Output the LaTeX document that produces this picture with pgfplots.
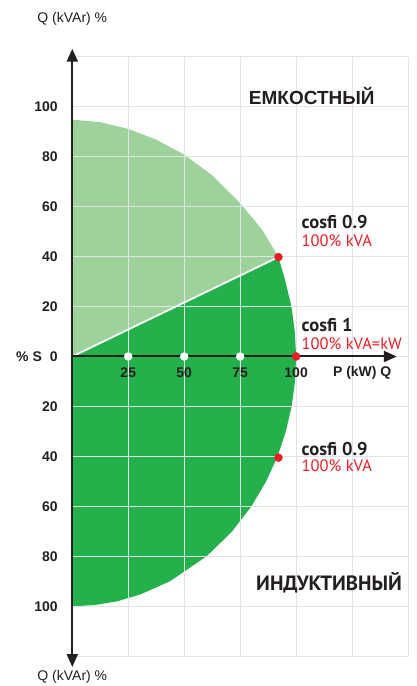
\documentclass[border=0pt]{standalone}
\usepackage{pgfplots}
\pgfplotsset{compat=1.18}
\usetikzlibrary{arrows.meta}
\usepackage{fontspec}
\setmainfont{Liberation Sans}
\newfontfamily\ptsans{PT Sans}

\definecolor{lightgr}{RGB}{158,210,155}
\definecolor{darkgr}{RGB}{36,177,76}
\definecolor{dotred}{RGB}{237,28,36}
\definecolor{ink}{RGB}{35,31,32}
\definecolor{gridc}{RGB}{224,227,231}

\newcommand{\lab}{\fontsize{14}{16}\selectfont\bfseries}
\tikzset{yl/.style={anchor=east, inner sep=0pt, text=ink, font=\lab},
         xl/.style={inner sep=0pt, text=ink, font=\lab},
         cosl/.style={anchor=base west, inner sep=0pt, text=ink, font=\ptsans\fontsize{18.5}{20}\selectfont\bfseries},
         kval/.style={anchor=base west, inner sep=0pt, text=dotred, font=\ptsans\fontsize{16.5}{18}\selectfont}}

\begin{document}
\begin{tikzpicture}
\begin{axis}[
    set layers,
    scale only axis,
    width=336pt, height=600pt,
    xmin=0, xmax=150, ymin=-120, ymax=120,
    xtick={0,25,...,150}, ytick={-120,-100,...,120},
    xticklabels={}, yticklabels={},
    major tick length=0pt,
    axis line style={draw=none},
    grid=major,
    grid style={gridc, line width=1pt},
    clip=false,
]
% capacitive part (light)
\addplot[on layer=axis background, fill=lightgr, draw=none] coordinates {
    (0,0) (0,94.8) (12.5,93.8) (25,91.1) (37.5,86.8) (50,80.8)
    (62.5,72.5) (75,61.4) (85,50.5) (92.1,39.8) (0,0)
};
% dark part
\addplot[on layer=axis background, fill=darkgr, draw=none] coordinates {
    (0,0) (92.1,39.8) (95,30.8) (97.9,20) (99.4,10) (100,0)
    (99.5,-10) (98,-20) (95.4,-30) (91.7,-40) (86.6,-50) (80,-60)
    (71.4,-70) (60,-80) (43.6,-90) (30,-95.4) (20,-98) (10,-99.5) (0,-100) (0,0)
};
% cos phi line
\addplot[white, line width=1.8pt] coordinates {(0,0) (92.1,39.8)};

% axes
\draw[ink, line width=2pt, -{Triangle[length=13pt,width=11pt]}] (axis cs:0,0) -- (axis cs:145,0);
\draw[ink, line width=2pt, -{Triangle[length=13pt,width=11pt]}] (axis cs:0,-118) -- (axis cs:0,123.2);
\draw[ink, line width=2pt, -{Triangle[length=13pt,width=11pt]}] (axis cs:0,118) -- (axis cs:0,-124.3);

% dots
\addplot[only marks, mark=*, mark size=4pt, mark options={fill=white, draw=white}] coordinates {(25,0) (50,0) (75,0)};
\addplot[only marks, mark=*, mark size=4pt, mark options={fill=dotred, draw=dotred}] coordinates {(92.1,39.8) (100,0) (92.1,-40.5)};

% y labels
\node[yl] at (axis cs:-6.4,100) {100};
\node[yl] at (axis cs:-6.4,80) {80};
\node[yl] at (axis cs:-6.4,60) {60};
\node[yl] at (axis cs:-6.4,40) {40};
\node[yl] at (axis cs:-6.4,20) {20};
\node[yl] at (axis cs:-6.4,0) {0};
\node[yl] at (axis cs:-6.4,-20) {20};
\node[yl] at (axis cs:-6.4,-40) {40};
\node[yl] at (axis cs:-6.4,-60) {60};
\node[yl] at (axis cs:-6.4,-80) {80};
\node[yl] at (axis cs:-6.4,-100) {100};
\node[yl] at (axis cs:-13.5,0) {\% S};
% x labels
\node[xl] at (axis cs:25,-6.6) {25};
\node[xl] at (axis cs:50,-6.6) {50};
\node[xl] at (axis cs:75,-6.6) {75};
\node[xl] at (axis cs:100,-6.6) {100};
\node[xl, anchor=west] at (axis cs:116.4,-6.6) {P (kW) Q};

% axis titles
\node[inner sep=0pt, text=ink] at (axis cs:0,135.3) {\fontsize{14}{16}\selectfont Q (kVAr) \%};
\node[inner sep=0pt, text=ink] at (axis cs:0,-128.3) {\fontsize{14}{16}\selectfont Q (kVAr) \%};

% region names
\node[inner sep=0pt, text=ink] at (axis cs:107,104.4) {\fontsize{19}{21}\selectfont\bfseries ЕМКОСТНЫЙ};
\node[inner sep=0pt, text=ink] at (axis cs:114.7,-90.6) {\ptsans\fontsize{20.7}{22}\selectfont\bfseries ИНДУКТИВНЫЙ};

% cos phi notes
\node[cosl] at (axis cs:102.4,51.4) {cosfi 0.9};
\node[kval] at (axis cs:102.4,44.1) {100\% kVA};
\node[cosl] at (axis cs:102.4,10.2) {cosfi 1};
\node[kval] at (axis cs:102.4,2.9) {100\% kVA=kW};
\node[cosl] at (axis cs:102.4,-39.8) {cosfi 0.9};
\node[kval] at (axis cs:102.4,-46.1) {100\% kVA};

% page frame
\path (axis cs:-32.3,142.7) rectangle (axis cs:153.9,-131.9);
\end{axis}
\end{tikzpicture}
\end{document}
